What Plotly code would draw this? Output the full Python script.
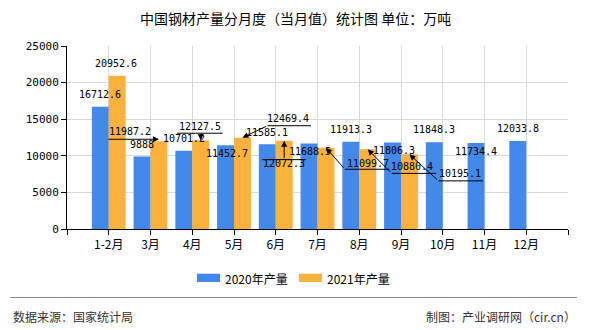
import plotly.graph_objects as go

# ---------------- data ----------------
categories = ["1-2月", "3月", "4月", "5月", "6月", "7月", "8月", "9月", "10月", "11月", "12月"]
output_2020 = [16712.6, 9888, 10701.2, 11452.7, 11585.1, 11688.5, 11913.3, 11806.3, 11848.3, 11734.4, 12033.8]
output_2021 = [20952.6, 11987.2, 12127.5, 12469.4, 12072.3, 11099.7, 10880.4, 10195.1]
series_names = ["2020年产量", "2021年产量"]
y_ticks = [0, 5000, 10000, 15000, 20000, 25000]

title_text = "中国钢材产量分月度（当月值）统计图 单位：万吨"
source_text = "数据来源：国家统计局"
credit_text = "制图：产业调研网（cir.cn）"

# ---------------- style ----------------
BLUE = "#4389ec"
ORANGE = "#fbb23d"
CJK = "Noto Sans CJK SC, Noto Sans, sans-serif"
MONO = "DejaVu Sans Mono, Liberation Mono, monospace"
GRID = "#d9d9d9"
BARGAP = 0.19
half = (1 - BARGAP) / 4  # offset of each bar centre from the category centre

# label offsets in pixels (dx right, dy up) relative to the bar top centre
lab_2020 = [(0, 12.5), (0, 12.5), (0, 12.5), (1.5, -8), (0, 12), (0.5, -8),
            (0, 12.5), (1.5, -8), (0, 12.5), (0, -8), (0, 12)]
lab_2021 = [(-1, 12.5), (-29, 9.5), (-1, 14), (46, 19), (0, -23), (42, -16),
            (44, -17), (51, -19.5)]
# leader lines for 2021 labels: (underline start dx, underline dy, length), arrow tail (ax, ay), head yshift
leaders_2021 = {
    1: (None, (-52, 0), 2),
    2: ((-23.5, 7, 47), (0, -7), 0),
    3: ((25, 12, 45), (25, -12), 0),
    4: ((-22, -19, 45), (0, 19), 0),
    5: ((19, -21.5, 46), (19, 21.5), 0),
    6: ((24, -24, 46), (24, 24), 0),
    7: ((29, -26.5, 46), (29, 26.5), 0),
}

x_idx = list(range(len(categories)))

fig = go.Figure()
fig.add_trace(go.Bar(x=x_idx, y=output_2020, name=series_names[0],
                     marker=dict(color=BLUE, line=dict(width=0))))
fig.add_trace(go.Bar(x=x_idx[:len(output_2021)], y=output_2021, name=series_names[1],
                     marker=dict(color=ORANGE, line=dict(width=0))))

annotations = []
label_font = dict(family=MONO, size=10, color="#000000")


def fmt(v):
    s = f"{v:.1f}"
    return s[:-2] if s.endswith(".0") else s


for i, v in enumerate(output_2020):
    dx, dy = lab_2020[i]
    annotations.append(dict(x=i - half, y=v, xref="x", yref="y", text=fmt(v),
                            showarrow=False, xshift=dx, yshift=dy, font=label_font,
                            xanchor="center", yanchor="middle"))

for i, v in enumerate(output_2021):
    dx, dy = lab_2021[i]
    annotations.append(dict(x=i + half, y=v, xref="x", yref="y", text=fmt(v),
                            showarrow=False, xshift=dx, yshift=dy, font=label_font,
                            xanchor="center", yanchor="middle"))
    if i in leaders_2021:
        under, (ax, ay), hs = leaders_2021[i]
        if under is not None:
            ux, uy, ul = under
            annotations.append(dict(x=i + half, y=v, xref="x", yref="y", text="",
                                    showarrow=True, arrowhead=0, arrowwidth=1,
                                    arrowcolor="#000000", xshift=ux, yshift=uy,
                                    ax=ul, ay=0, font=dict(size=1)))
        annotations.append(dict(x=i + half, y=v, xref="x", yref="y", text="",
                                showarrow=True, arrowhead=2, arrowsize=1.2, arrowwidth=1,
                                arrowcolor="#000000", yshift=hs,
                                ax=ax, ay=ay, font=dict(size=1)))

# geometry helpers (pixel -> paper)
W, H = 590, 330
ML, MR, MT, MB = 67, 22, 46, 101
PW, PH = W - ML - MR, H - MT - MB


def px_to_paper(px, py):
    return (px - ML) / PW, 1 - (py - MT) / PH


def paper_text(px, py, text, size, color, anchor):
    x, y = px_to_paper(px, py)
    return dict(x=x, y=y, xref="paper", yref="paper", text=text, showarrow=False,
                font=dict(family=CJK, size=size, color=color),
                xanchor=anchor, yanchor="middle")


annotations.append(paper_text(295, 18, title_text, 14, "#000000", "center"))
annotations.append(paper_text(223, 278, series_names[0], 12, "#000000", "left"))
annotations.append(paper_text(325, 278, series_names[1], 12, "#000000", "left"))
annotations.append(paper_text(11, 316, source_text, 12, "#333333", "left"))
annotations.append(paper_text(578, 316, credit_text, 12, "#333333", "right"))

shapes = []
# legend swatches
for (x0, x1), col in (((197, 220), BLUE), ((299, 322), ORANGE)):
    px0, py0 = px_to_paper(x0, 273.7)
    px1, py1 = px_to_paper(x1, 282)
    shapes.append(dict(type="rect", xref="paper", yref="paper", x0=px0, x1=px1,
                       y0=py1, y1=py0, fillcolor=col, line=dict(width=0)))
# footer separator
sx0, sy = px_to_paper(10, 297.5)
sx1, _ = px_to_paper(577, 297.5)
shapes.append(dict(type="line", xref="paper", yref="paper", x0=sx0, x1=sx1, y0=sy, y1=sy,
                   line=dict(color="#888888", width=1)))

fig.update_layout(
    width=W, height=H,
    margin=dict(l=ML, r=MR, t=MT, b=MB, pad=0),
    paper_bgcolor="#ffffff", plot_bgcolor="#ffffff",
    barmode="group", bargap=BARGAP, bargroupgap=0,
    showlegend=False,
    annotations=annotations,
    shapes=shapes,
    xaxis=dict(
        range=[-1, len(categories)],
        tickmode="array",
        tickvals=list(range(-1, len(categories) + 1)),
        ticktext=[""] + categories + [""],
        ticks="outside", ticklen=5, tickcolor="#000000",
        showline=True, linecolor="#000000", linewidth=1,
        showgrid=True, gridcolor=GRID, gridwidth=1,
        zeroline=False,
        tickfont=dict(family=CJK, size=12, color="#000000"),
        fixedrange=True,
    ),
    yaxis=dict(
        range=[0, 25000],
        tickmode="array", tickvals=y_ticks,
        ticktext=[str(v) for v in y_ticks],
        ticks="outside", ticklen=5, tickcolor="#000000",
        showline=True, linecolor="#000000", linewidth=1,
        showgrid=True, gridcolor=GRID, gridwidth=1,
        zeroline=False,
        tickfont=dict(family=MONO, size=11, color="#000000"),
        fixedrange=True,
    ),
)

fig.write_html("out.html", config={"displayModeBar": False})
